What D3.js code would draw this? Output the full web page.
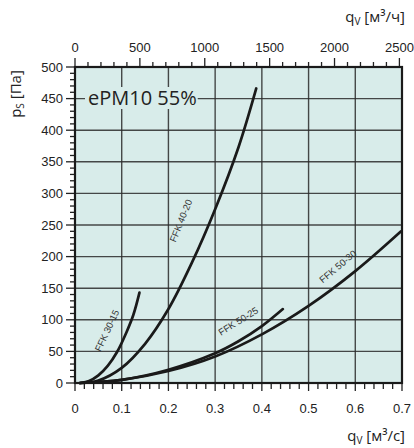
<!DOCTYPE html>
<html><head><meta charset="utf-8">
<script src="https://cdn.jsdelivr.net/npm/d3@7"></script>
<style>body{margin:0;background:#fff}svg{display:block}</style>
</head><body>
<svg id="c" width="414" height="448"></svg>
<script>
const xTicks = [0,0.1,0.2,0.3,0.4,0.5,0.6,0.7];
const yTicks = [0,50,100,150,200,250,300,350,400,450,500];
const topTicks = [0,500,1000,1500,2000,2500];
const chartTitle = "ePM10 55%";
const seriesNames = ["FFK 30-15","FFK 40-20","FFK 50-25","FFK 50-30"];
const s3015 = [[0.012,0],[0.03,3],[0.05,12],[0.07,27],[0.09,49],[0.11,80],[0.125,108],[0.138,143]];
const s4020 = [[0.01,0],[0.05,4],[0.1,24],[0.15,62],[0.2,117],[0.25,190],[0.3,275],[0.35,373],[0.388,466]];
const s5025 = [[0.01,0],[0.1,5],[0.2,21],[0.3,47],[0.35,66],[0.4,90],[0.445,117]];
const s5030 = [[0.01,0],[0.1,5],[0.2,19],[0.3,42],[0.4,77],[0.5,122],[0.6,177],[0.698,240]];
const seriesData = [s3015,s4020,s5025,s5030];

const L=75,R=402,T=67,B=383;
const svg=d3.select("#c");
const x=d3.scaleLinear().domain([0,0.7]).range([L,R]);
const xTop=d3.scaleLinear().domain([0,0.7*3600]).range([L,R]);
const y=d3.scaleLinear().domain([0,500]).range([B,T]);
const bg="#d8ecea";
svg.append("rect").attr("x",L).attr("y",T).attr("width",R-L).attr("height",B-T).attr("fill",bg);

// grid
const g=svg.append("g").attr("stroke","#2a2a2a").attr("stroke-width",1.4).attr("stroke-opacity",0.85);
xTicks.slice(1,-1).forEach(v=>g.append("line").attr("x1",x(v)).attr("x2",x(v)).attr("y1",T).attr("y2",B));
yTicks.slice(1,-1).forEach(v=>g.append("line").attr("x1",L).attr("x2",R).attr("y1",y(v)).attr("y2",y(v)));

// title with background
const tt=svg.append("text").attr("x",88).attr("y",105).attr("font-family","'Open Sans',sans-serif").attr("font-size",20).attr("fill","#222").text(chartTitle);
const bb=tt.node().getBBox();
svg.insert("rect","text").attr("x",bb.x-3).attr("y",bb.y+3).attr("width",bb.width+4).attr("height",bb.height-5).attr("fill",bg);

// curves
const line=d3.line().x(d=>x(d[0])).y(d=>y(d[1])).curve(d3.curveCatmullRom.alpha(0.5));
seriesData.forEach(s=>svg.append("path").attr("d",line(s)).attr("fill","none").attr("stroke","#1a1a1a").attr("stroke-width",2.7).attr("stroke-linecap","round"));

// curve labels
const labs=[[110,332,-65],[184,222,-68],[240,324,-32],[340,269,-40]];
seriesNames.forEach((n,i)=>svg.append("text").attr("transform",`translate(${labs[i][0]},${labs[i][1]}) rotate(${labs[i][2]})`).attr("text-anchor","middle").attr("font-family","'Liberation Sans',Arial,sans-serif").attr("font-size",9.5).attr("fill","#333").text(n));

// axes
const font="'Liberation Sans',Arial,sans-serif";
const ax=svg.append("g").attr("stroke","#222");
d3.range(0,0.7001,0.02).forEach(v=>{const maj=Math.abs(v*10-Math.round(v*10))<1e-6;ax.append("line").attr("x1",x(v)).attr("x2",x(v)).attr("y1",B).attr("y2",B+(maj?8:6)).attr("stroke-width",1.3);});
d3.range(0,500.1,10).forEach(v=>{const maj=v%50===0;ax.append("line").attr("x1",L).attr("x2",L-(maj?9:5)).attr("y1",y(v)).attr("y2",y(v)).attr("stroke-width",1.3);});
d3.range(0,2501,100).forEach(v=>{const maj=v%500===0;ax.append("line").attr("x1",xTop(v)).attr("x2",xTop(v)).attr("y1",T).attr("y2",T-(maj?9:5)).attr("stroke-width",1.3);});
svg.append("rect").attr("x",L).attr("y",T).attr("width",R-L).attr("height",B-T).attr("fill","none").attr("stroke","#1a1a1a").attr("stroke-width",2.2);

const tl=svg.append("g").attr("font-family",font).attr("font-size",13).attr("fill","#222");
xTicks.forEach(v=>tl.append("text").attr("x",x(v)).attr("y",413).attr("text-anchor","middle").text(v===0?"0":d3.format(".1f")(v)));
yTicks.forEach(v=>tl.append("text").attr("x",63).attr("y",y(v)+4.5).attr("text-anchor","end").text(v));
topTicks.forEach(v=>tl.append("text").attr("x",xTop(v)).attr("y",52).attr("text-anchor","middle").text(v));

// axis titles
const at=svg.append("g").attr("font-family","'Open Sans',sans-serif").attr("font-size",15).attr("fill","#222");
const t1=at.append("text").attr("x",405).attr("y",22).attr("text-anchor","end");
t1.append("tspan").text("q");t1.append("tspan").attr("font-size",10).attr("dy",3).text("V");t1.append("tspan").attr("dy",-3).text(" [м³/ч]");
const t2=at.append("text").attr("x",405).attr("y",441).attr("text-anchor","end");
t2.append("tspan").text("q");t2.append("tspan").attr("font-size",10).attr("dy",3).text("V");t2.append("tspan").attr("dy",-3).text(" [м³/с]");
const t3=at.append("text").attr("transform","translate(21,94) rotate(-90)").attr("text-anchor","middle");
t3.append("tspan").text("p");t3.append("tspan").attr("font-size",10).attr("dy",3).text("S");t3.append("tspan").attr("dy",-3).text(" [Па]");
</script>
</body></html>
